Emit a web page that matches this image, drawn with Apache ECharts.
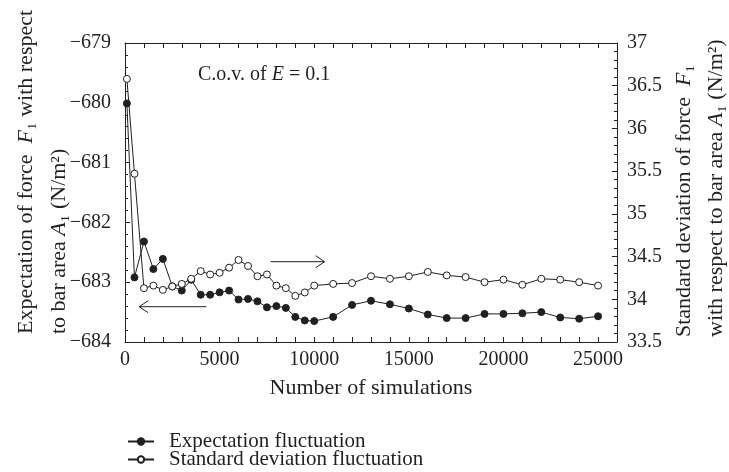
<!DOCTYPE html>
<html>
<head>
<meta charset="utf-8">
<script src="https://cdn.jsdelivr.net/npm/echarts@6/dist/echarts.min.js"></script>
<style>html,body{margin:0;padding:0;background:#fff;}#c{width:729px;height:472px;}</style>
</head>
<body>
<div id="c"></div>
<script>
// ---- data ----
var simulations = [100, 500, 1000, 1500, 2000, 2500, 3000, 3500, 4000, 4500, 5000, 5500, 6000, 6500, 7000, 7500, 8000, 8500, 9000, 9500, 10000,
  11000, 12000, 13000, 14000, 15000, 16000, 17000, 18000, 19000, 20000, 21000, 22000, 23000, 24000, 25000];
var expectation = [-680.01, -682.92, -682.32, -682.78, -682.61, -683.07, -683.14, -682.96, -683.21, -683.21, -683.17, -683.14, -683.29, -683.28, -683.32, -683.42, -683.40, -683.43, -683.58, -683.64, -683.65,
  -683.58, -683.38, -683.31, -683.37, -683.44, -683.54, -683.60, -683.60, -683.53, -683.53, -683.52, -683.50, -683.59, -683.61, -683.57];
var stdDeviation = [36.58, 35.47, 34.13, 34.16, 34.11, 34.15, 34.18, 34.24, 34.33, 34.29, 34.31, 34.37, 34.46, 34.39, 34.27, 34.29, 34.16, 34.13, 34.04, 34.08, 34.16,
  34.18, 34.19, 34.27, 34.24, 34.27, 34.32, 34.28, 34.26, 34.20, 34.23, 34.17, 34.24, 34.23, 34.20, 34.16];
var seriesNames = ['Expectation fluctuation', 'Standard deviation fluctuation'];
var xTickLabels = [0, 5000, 10000, 15000, 20000, 25000];
var leftTickLabels = [-684, -683, -682, -681, -680, -679];
var rightTickLabels = [33.5, 34, 34.5, 35, 35.5, 36, 36.5, 37];
// annotation arrows in data space: [x0, y0, x1, y1] (head at x1)
var rightArrow = [7700, 34.44, 10550, 34.44];
var leftArrow = [4300, -683.41, 750, -683.41];

var FONT = 'Liberation Serif';
var INK = '#231f20';
var TITLE = 22;

function pairs(xs, ys) { return xs.map(function (x, i) { return [x, ys[i]]; }); }

var chart = echarts.init(document.getElementById('c'), null, { renderer: 'canvas' });

var boxAxisLine = { show: true, onZero: false, lineStyle: { color: INK, width: 1 } };

function legendRow(name, top) {
  return {
    orient: 'vertical',
    left: 127,
    top: top,
    itemWidth: 26,
    itemHeight: 8,
    itemGap: 0,
    padding: 0,
    data: [name],
    selectedMode: false,
    textStyle: { fontFamily: FONT, fontSize: 21, color: INK, lineHeight: 20, padding: [0, 0, 0, 10] }
  };
}

var option = {
  backgroundColor: '#fff',
  animation: false,
  textStyle: { fontFamily: FONT, color: INK },
  grid: { left: 125, right: 112, top: 43, bottom: 130 },
  legend: [legendRow(seriesNames[0], 431), legendRow(seriesNames[1], 449)],
  xAxis: [{
    type: 'value', position: 'bottom', min: 0, max: 26000, interval: 1000,
    axisLine: boxAxisLine,
    axisTick: { show: true, inside: true, length: 5, lineStyle: { color: INK } },
    axisLabel: {
      fontFamily: FONT, fontSize: 20, color: INK, margin: 8,
      formatter: function (v) { return xTickLabels.indexOf(v) >= 0 ? String(v) : ''; }
    },
    splitLine: { show: false },
    name: 'Number of simulations', nameLocation: 'middle', nameGap: 35,
    nameTextStyle: { fontFamily: FONT, fontSize: TITLE, color: INK }
  }, {
    type: 'value', position: 'top', min: 0, max: 26000, interval: 1000,
    axisLine: boxAxisLine,
    axisTick: { show: true, inside: true, length: 5, lineStyle: { color: INK } },
    axisLabel: { show: false }, splitLine: { show: false }
  }],
  yAxis: [{
    type: 'value', position: 'left', min: leftTickLabels[0], max: leftTickLabels[leftTickLabels.length - 1], interval: 1,
    axisLine: boxAxisLine,
    axisTick: { show: true, inside: true, length: 5, lineStyle: { color: INK } },
    minorTick: { show: true, splitNumber: 5, length: 3, lineStyle: { color: INK } },
    axisLabel: {
      fontFamily: FONT, fontSize: 20, color: INK, margin: 14,
      formatter: function (v) { return (v < 0 ? '\u2212' : '') + Math.abs(v); }
    },
    splitLine: { show: false }
  }, {
    type: 'value', position: 'right', min: rightTickLabels[0], max: rightTickLabels[rightTickLabels.length - 1], interval: 0.5,
    axisLine: boxAxisLine,
    axisTick: { show: true, inside: true, length: 5, lineStyle: { color: INK } },
    minorTick: { show: true, splitNumber: 5, length: 3, lineStyle: { color: INK } },
    axisLabel: { fontFamily: FONT, fontSize: 20, color: INK, margin: 10 },
    splitLine: { show: false }
  }],
  series: [{
    name: seriesNames[0], type: 'line', xAxisIndex: 0, yAxisIndex: 0,
    data: pairs(simulations, expectation),
    symbol: 'circle', symbolSize: 7,
    lineStyle: { color: INK, width: 1 },
    itemStyle: { color: INK, borderColor: INK, borderWidth: 1 }
  }, {
    name: seriesNames[1], type: 'line', xAxisIndex: 0, yAxisIndex: 1,
    data: pairs(simulations, stdDeviation),
    symbol: 'circle', symbolSize: 7,
    lineStyle: { color: INK, width: 1 },
    itemStyle: { color: '#fff', borderColor: INK, borderWidth: 1 }
  }]
};
chart.setOption(option);

function richFor(size) {
  return {
    i: { fontFamily: FONT, fontSize: size, fontStyle: 'italic', fill: INK }
  };
}
function vText(x, yBottom, text, size) {
  return {
    type: 'text', x: x, y: yBottom, rotation: Math.PI / 2, silent: true,
    style: { text: text, fontFamily: FONT, fontSize: size, fill: INK, align: 'left', verticalAlign: 'middle', rich: richFor(size) }
  };
}
function arrow(a, yAxisIndex) {
  var p0 = chart.convertToPixel({ xAxisIndex: 0, yAxisIndex: yAxisIndex }, [a[0], a[1]]);
  var p1 = chart.convertToPixel({ xAxisIndex: 0, yAxisIndex: yAxisIndex }, [a[2], a[3]]);
  var dir = p1[0] > p0[0] ? 1 : -1;
  return [{
    type: 'line', silent: true, shape: { x1: p0[0], y1: p0[1], x2: p1[0], y2: p1[1] },
    style: { stroke: INK, lineWidth: 1 }
  }, {
    type: 'polyline', silent: true,
    shape: { points: [[p1[0] - dir * 9, p1[1] - 6], [p1[0], p1[1]], [p1[0] - dir * 9, p1[1] + 6]] },
    style: { stroke: INK, lineWidth: 1, fill: null }
  }];
}

var graphics = [
  vText(26, 334, 'Expectation of force  {i|F}\u2081 with respect', TITLE),
  vText(59, 334, 'to bar area {i|A}\u2081 (N/m\u00b2)', TITLE),
  vText(684, 337, 'Standard deviation of force  {i|F}\u2081', TITLE),
  vText(716, 337, 'with respect to bar area {i|A}\u2081 (N/m\u00b2)', TITLE),
  {
    type: 'text', x: 198, y: 75, silent: true,
    style: { text: 'C.o.v. of {i|E} = 0.1', fontFamily: FONT, fontSize: 20, fill: INK, align: 'left', verticalAlign: 'middle', rich: richFor(20) }
  }
].concat(arrow(rightArrow, 1)).concat(arrow(leftArrow, 0));

chart.setOption({ graphic: graphics });
</script>
</body>
</html>
